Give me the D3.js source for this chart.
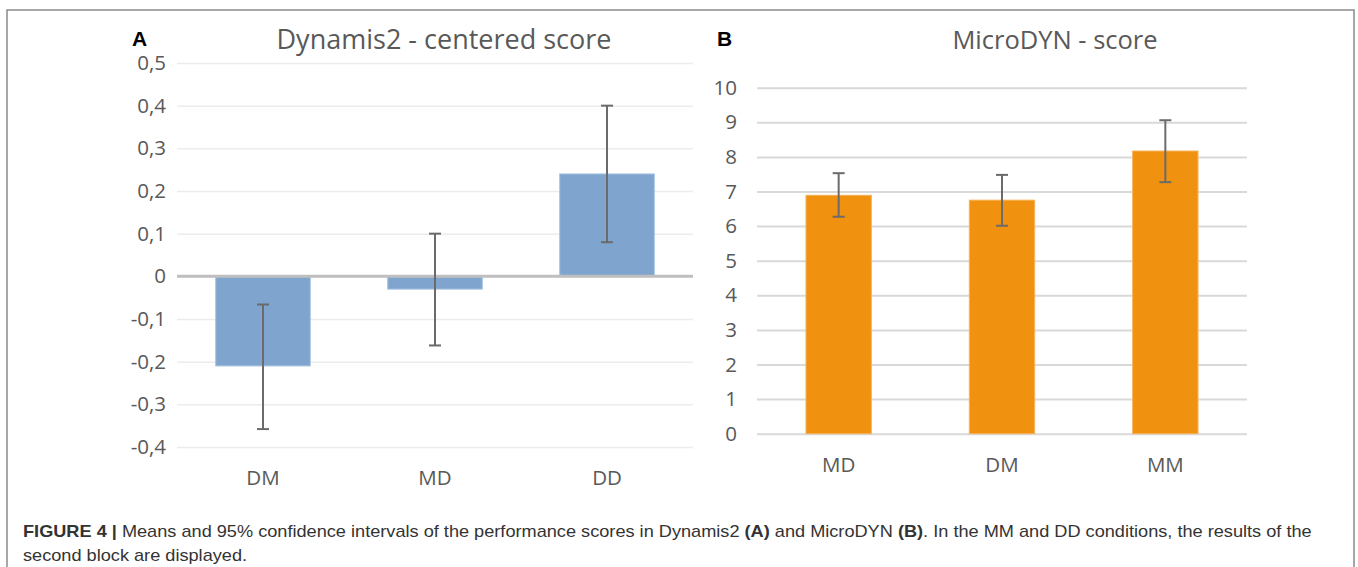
<!DOCTYPE html>
<html>
<head>
<meta charset="utf-8">
<script src="https://cdn.jsdelivr.net/npm/d3@7"></script>
<style>
  html, body { margin: 0; padding: 0; background: #fff; }
  svg { display: block; }
</style>
</head>
<body>
<svg id="fig" width="1358" height="567"></svg>
<script>
// ---------- Data ----------
const dynCategories = ["DM", "MD", "DD"];
const dynMeans = [-0.21, -0.03, 0.24];
const dynLower = [-0.358, -0.162, 0.08];
const dynUpper = [-0.066, 0.10, 0.40];
const dynTicks = [0.5, 0.4, 0.3, 0.2, 0.1, 0, -0.1, -0.2, -0.3, -0.4];

const microCategories = ["MD", "DM", "MM"];
const microMeans = [6.89, 6.75, 8.17];
const microLower = [6.27, 6.01, 7.27];
const microUpper = [7.53, 7.48, 9.06];
const microTicks = [0, 1, 2, 3, 4, 5, 6, 7, 8, 9, 10];

const titleA = "Dynamis2 - centered score";
const titleB = "MicroDYN - score";
const captionLine1 = ["FIGURE 4 | ", "Means and 95% confidence intervals of the performance scores in Dynamis2 ", "(A)", " and MicroDYN ", "(B)", ". In the MM and DD conditions, the results of the"];
const captionLine2 = "second block are displayed.";

// ---------- Setup ----------
const svg = d3.select("#fig");
const chartFont = "'Open Sans', 'Noto Sans', sans-serif";
const textGrey = "#595959";

// outer frame
svg.append("rect")
  .attr("x", 7).attr("y", 10).attr("width", 1347).attr("height", 600)
  .attr("fill", "none").attr("stroke", "#8a8a8a").attr("stroke-width", 1.5);

function fmtComma(v) {
  if (v === 0) return "0";
  return d3.format(".1f")(v).replace(".", ",").replace("−", "-");
}

function drawPanel(opts) {
  const g = svg.append("g");
  const x = d3.scaleBand().domain(opts.categories).range([opts.x0, opts.x1]).paddingInner(opts.pad).paddingOuter(opts.pad / 2);
  const y = d3.scaleLinear().domain(opts.domain).range([opts.yBottom, opts.yTop]);

  // gridlines via axis
  const yAxis = d3.axisLeft(y).tickValues(opts.ticks).tickFormat(opts.fmt)
    .tickSize(-(opts.x1 - opts.x0)).tickPadding(opts.tickPad);
  const ag = g.append("g").attr("transform", `translate(${opts.x0},0)`).call(yAxis);
  ag.select(".domain").remove();
  ag.selectAll(".tick line").attr("stroke", opts.gridColor).attr("stroke-width", opts.gridWidth);
  ag.selectAll(".tick text").attr("fill", textGrey)
    .style("font-family", chartFont).style("font-size", opts.tickSize + "px");

  // bars
  g.append("g").selectAll("rect").data(opts.means).join("rect")
    .attr("x", (d, i) => x(opts.categories[i]))
    .attr("width", x.bandwidth())
    .attr("y", d => y(Math.max(0, d)))
    .attr("height", d => Math.abs(y(d) - y(0)))
    .attr("fill", opts.barColor)
    .attr("stroke", opts.barStroke).attr("stroke-width", 1);

  // zero line
  if (opts.zeroLine) {
    g.append("line").attr("x1", opts.x0).attr("x2", opts.x1)
      .attr("y1", y(0)).attr("y2", y(0))
      .attr("stroke", "#bfbfbf").attr("stroke-width", 3);
  }

  // error bars
  const eg = g.append("g").attr("stroke", "#6b6b6b").attr("stroke-width", 2);
  opts.categories.forEach((c, i) => {
    const cx = x(c) + x.bandwidth() / 2;
    eg.append("line").attr("x1", cx).attr("x2", cx).attr("y1", y(opts.lower[i])).attr("y2", y(opts.upper[i]));
    eg.append("line").attr("x1", cx - 6).attr("x2", cx + 6).attr("y1", y(opts.lower[i])).attr("y2", y(opts.lower[i]));
    eg.append("line").attr("x1", cx - 6).attr("x2", cx + 6).attr("y1", y(opts.upper[i])).attr("y2", y(opts.upper[i]));
  });

  // category labels
  const xAxis = d3.axisBottom(x).tickSize(0).tickPadding(0);
  const xg = g.append("g").attr("transform", `translate(0,${opts.catY})`).call(xAxis);
  xg.select(".domain").remove();
  xg.selectAll(".tick text").attr("fill", textGrey).attr("dy", "0.35em")
    .style("font-family", chartFont).style("font-size", opts.tickSize + "px");

  // title
  g.append("text").attr("x", opts.titleX).attr("y", opts.titleY)
    .attr("text-anchor", "middle").attr("fill", textGrey)
    .style("font-family", chartFont).style("font-size", opts.titleSize + "px")
    .text(opts.title);

  // panel letter
  g.append("text").attr("x", opts.letterX).attr("y", opts.letterY)
    .attr("fill", "#000").style("font-family", "'Liberation Sans', Arial, sans-serif")
    .style("font-weight", "bold").style("font-size", "21px").text(opts.letter);
}

drawPanel({
  categories: dynCategories, means: dynMeans, lower: dynLower, upper: dynUpper,
  ticks: dynTicks, fmt: fmtComma, domain: [-0.4, 0.5],
  x0: 177, x1: 693, yTop: 63, yBottom: 447, pad: 0.45, tickPad: 11,
  gridColor: "#ececec", gridWidth: 1.5, tickSize: 20.5,
  barColor: "#7fa5cf", barStroke: "#a9c3e2", zeroLine: true,
  catY: 478, title: titleA, titleX: 444, titleY: 49, titleSize: 27,
  letter: "A", letterX: 132, letterY: 46
});

// white background for panel B (overlaps panel A slightly)
svg.append("rect").attr("x", 694).attr("y", 11).attr("width", 659).attr("height", 490).attr("fill", "#fff");

drawPanel({
  categories: microCategories, means: microMeans, lower: microLower, upper: microUpper,
  ticks: microTicks, fmt: d3.format("d"), domain: [0, 10],
  x0: 757, x1: 1247, yTop: 87.7, yBottom: 433.7, pad: 0.6, tickPad: 20,
  gridColor: "#d9d9d9", gridWidth: 2, tickSize: 20.5,
  barColor: "#f0910f", barStroke: "#f5b25a", zeroLine: false,
  catY: 465, title: titleB, titleX: 1055, titleY: 49, titleSize: 25.5,
  letter: "B", letterX: 717, letterY: 46
});

// ---------- Caption ----------
const capFont = "'Liberation Sans', Arial, Helvetica, sans-serif";
const capScale = 1.135;
const capG = svg.append("g").attr("transform", `translate(23,0) scale(${capScale},1)`);
const cap1 = capG.append("text").attr("x", 0).attr("y", 537)
  .attr("fill", "#333").style("font-family", capFont).style("font-size", "16px");
captionLine1.forEach((t, i) => {
  cap1.append("tspan").text(t)
    .style("font-weight", (i === 0 || t === "(A)" || t === "(B)") ? "bold" : "normal");
});
capG.append("text").attr("x", 0).attr("y", 561)
  .attr("fill", "#333").style("font-family", capFont).style("font-size", "16px")
  .text(captionLine2);
</script>
</body>
</html>
